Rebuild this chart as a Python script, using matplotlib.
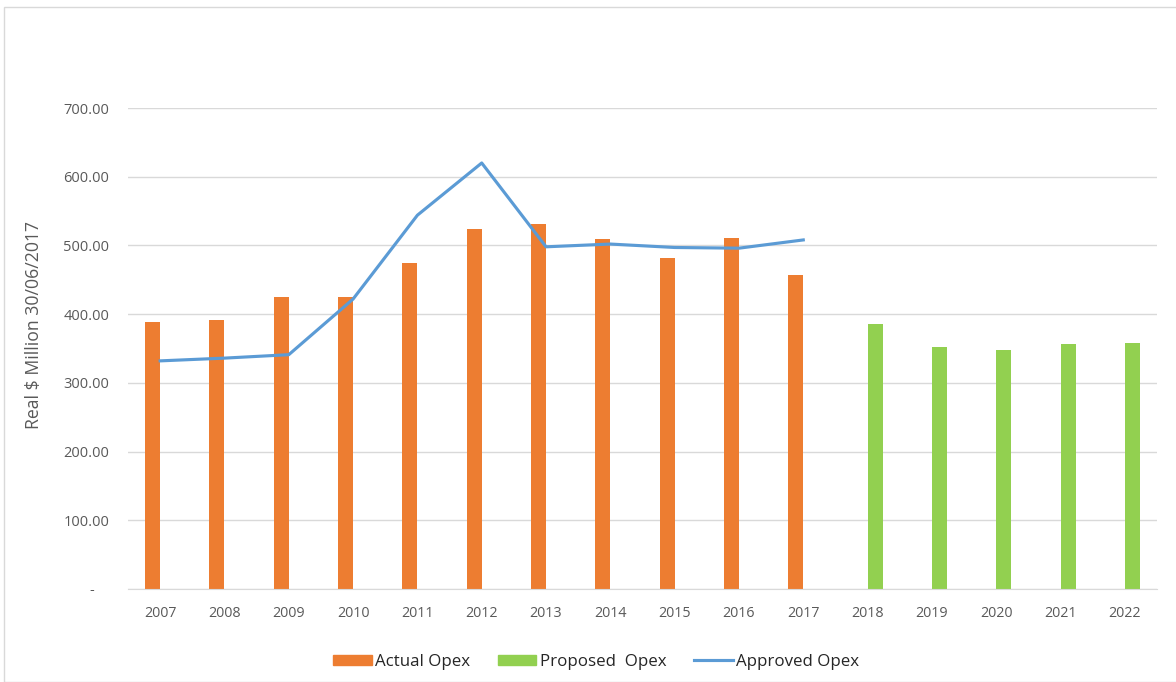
import matplotlib
matplotlib.use("Agg")
import matplotlib.pyplot as plt
import numpy as np
from matplotlib.patches import Rectangle, Patch
from matplotlib.lines import Line2D

years = ["2007", "2008", "2009", "2010", "2011", "2012", "2013", "2014",
         "2015", "2016", "2017", "2018", "2019", "2020", "2021", "2022"]
actual_opex = [388, 392, 425, 425, 474, 524, 531, 510, 481, 511, 457,
               None, None, None, None, None]
proposed_opex = [None] * 11 + [386, 352, 348, 357, 358]
approved_opex = [332, 336, 341, 422, 544, 620, 498, 502, 497, 496, 508]

ylabel = "Real $ Million 30/06/2017"
legend_labels = ['Actual Opex', 'Proposed  Opex', 'Approved Opex']

plt.rcParams['font.family'] = ['Open Sans', 'DejaVu Sans']
TXT = '#595959'

fig = plt.figure(figsize=(11.76, 6.82), dpi=100)
ax = fig.add_axes([128/1176, 1-589/682, (1157-128)/1176, (589-108)/682])

x = np.arange(len(years))
w = 0.233
a_x = [i for i, v in enumerate(actual_opex) if v is not None]
a_v = [v for v in actual_opex if v is not None]
p_x = [i for i, v in enumerate(proposed_opex) if v is not None]
p_v = [v for v in proposed_opex if v is not None]

ax.bar(np.array(a_x) - w/2, a_v, width=w, color='#ED7D31', zorder=2)
ax.bar(np.array(p_x) + w/2, p_v, width=w, color='#92D050', zorder=2)
ax.plot(np.arange(len(approved_opex)), approved_opex, color='#5B9BD5', lw=2.25,
        zorder=3, solid_joinstyle='round')

ax.set_xlim(-0.5, len(years) - 0.5)
ax.set_ylim(0, 700)
ax.set_yticks(np.arange(0, 701, 100))
ax.set_yticklabels(['-    '] + [f'{v:.2f}' for v in range(100, 701, 100)])
ax.set_xticks(x)
ax.set_xticklabels(years)
ax.grid(axis='y', color='#d9d9d9', lw=1, zorder=0)
for s in ['top', 'right', 'left']:
    ax.spines[s].set_visible(False)
ax.spines['bottom'].set_color('#d9d9d9')
ax.tick_params(axis='both', length=0, colors=TXT)
ax.tick_params(axis='y', pad=13.5, labelsize=10.5)
ax.tick_params(axis='x', pad=12, labelsize=10.3)

fig.text(34/1176, 1-325/682, ylabel, rotation=90, ha='center', va='center',
         color=TXT, fontsize=12.7)

handles = [Patch(color='#ED7D31'), Patch(color='#92D050'),
           Line2D([0], [0], color='#5B9BD5', lw=2.25)]
leg = fig.legend(handles, legend_labels, loc='center',
                 bbox_to_anchor=(596/1176, 1-662/682),
                 ncol=3, frameon=False, fontsize=12.2, handlelength=2.3,
                 handleheight=0.55, columnspacing=1.6, handletextpad=0.2)
for t in leg.get_texts():
    t.set_color('#262626')

fig.patches.append(Rectangle((4/1176, 0), 1.2, 1-7/682, transform=fig.transFigure,
                             fill=False, edgecolor='#d9d9d9', lw=1))

fig.savefig('out.png', dpi=100)
